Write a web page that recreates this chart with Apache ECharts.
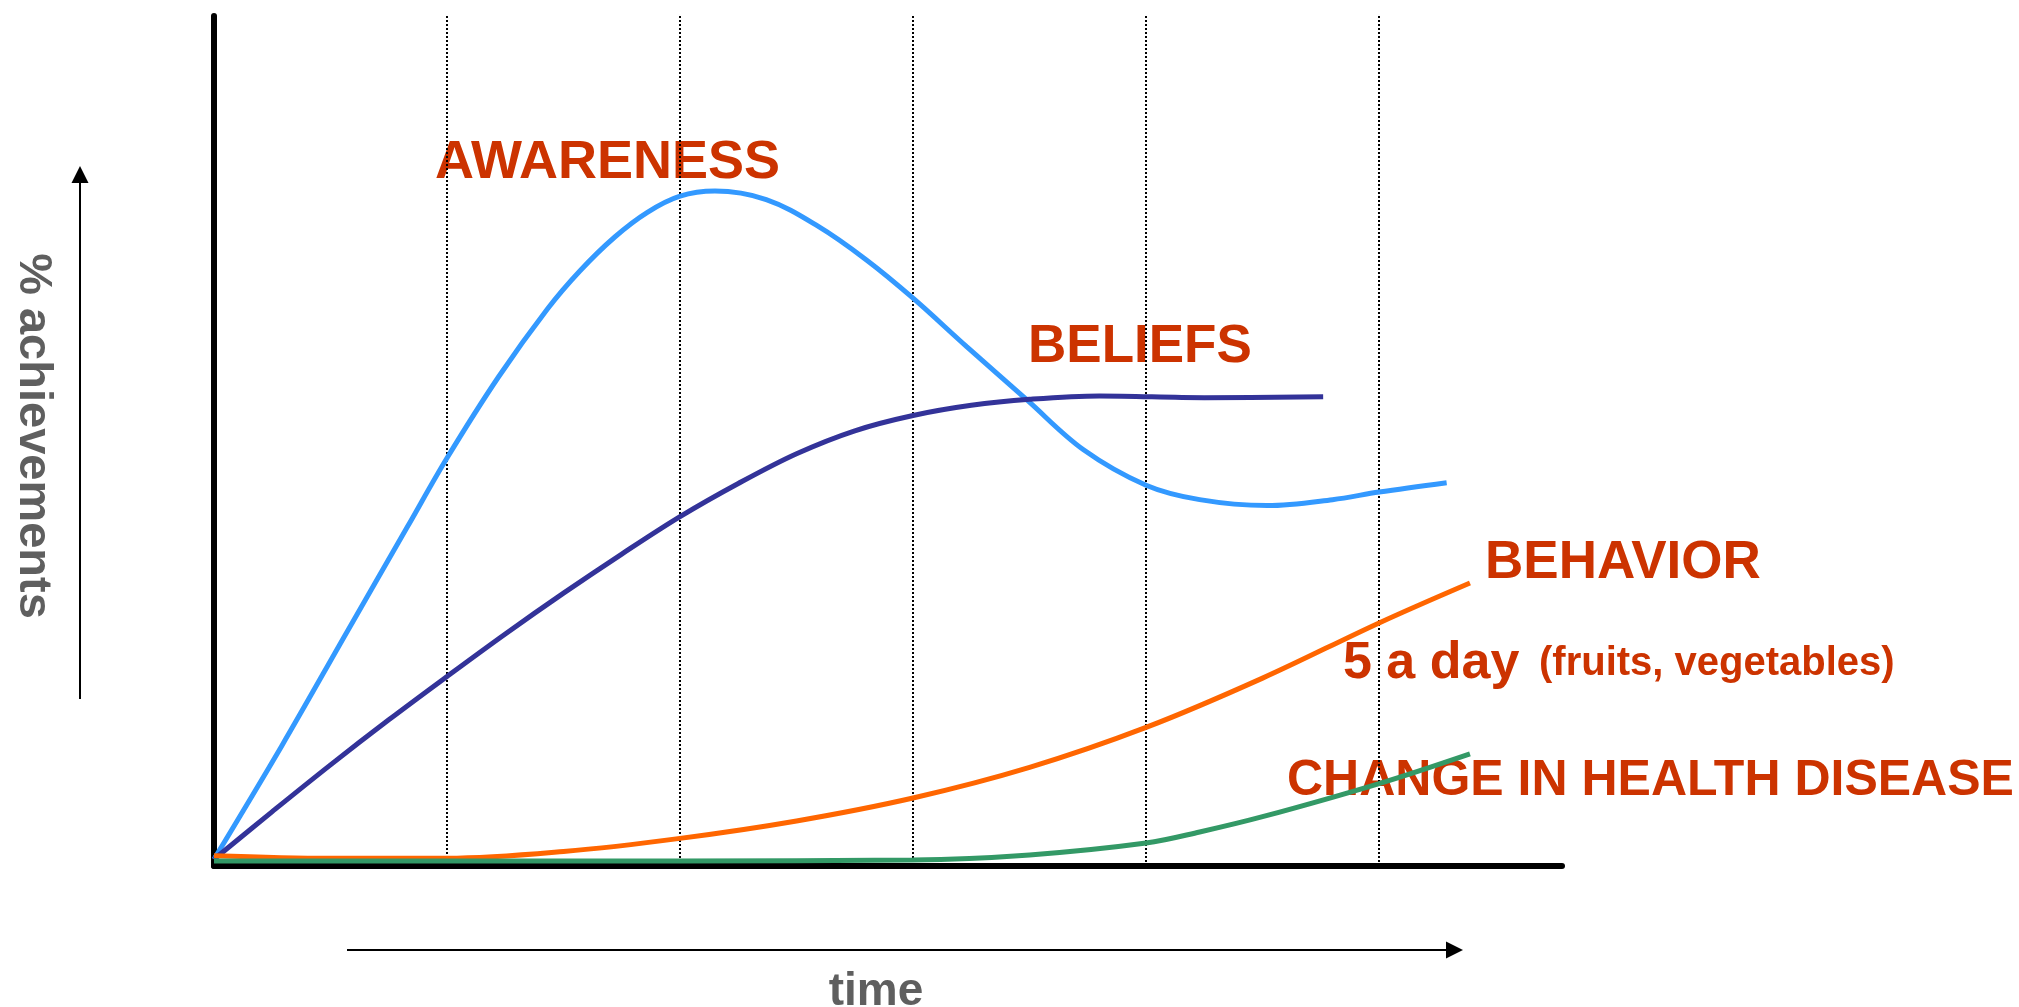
<!DOCTYPE html>
<html>
<head>
<meta charset="utf-8">
<script src="https://cdn.jsdelivr.net/npm/echarts@6/dist/echarts.min.js"></script>
<style>
  html, body { margin: 0; padding: 0; background: #ffffff; }
  #chart { width: 2019px; height: 1007px; }
</style>
</head>
<body>
<div id="chart"></div>
<script>
// ---- data (time in grid units, value in % of the axis height) ----
const awarenessTime = [0, 0.29, 0.57, 0.83, 1, 1.22, 1.43, 1.57, 1.72, 1.86, 2, 2.15, 2.37, 2.59, 2.8, 3, 3.23, 3.49, 3.73, 4, 4.23, 4.52, 4.8, 5, 5.29];
const awarenessValues = [0.8, 14.1, 27.5, 39.9, 48.0, 57.5, 65.5, 70.0, 74.0, 76.9, 78.8, 79.4, 78.4, 75.3, 71.3, 66.8, 61.1, 54.8, 49.0, 44.8, 43.1, 42.4, 43.1, 44.0, 45.1];

const beliefsTime = [0, 0.25, 0.5, 0.75, 1, 1.25, 1.5, 1.75, 2, 2.25, 2.5, 2.75, 3, 3.25, 3.5, 3.8, 4.25, 4.76];
const beliefsValues = [0.8, 6.4, 11.9, 17.2, 22.3, 27.3, 32.1, 36.7, 41.1, 45.0, 48.5, 51.2, 53.0, 54.2, 54.9, 55.3, 55.1, 55.2];

const behaviorTime = [0, 0.5, 1, 1.5, 2, 2.5, 3, 3.5, 4, 4.5, 5, 5.39];
const behaviorValues = [1.2, 0.9, 0.9, 1.7, 3.25, 5.3, 8.0, 11.6, 16.3, 22.1, 28.6, 33.3];

const healthTime = [0, 1, 2, 3, 3.5, 4, 4.23, 4.5, 5, 5.39];
const healthValues = [0.6, 0.6, 0.6, 0.7, 1.3, 2.7, 4.0, 5.8, 9.7, 13.2];

const seriesNames = ['AWARENESS', 'BELIEFS', 'BEHAVIOR', 'CHANGE IN HEALTH DISEASE'];
const labelAwareness = 'AWARENESS';
const labelBeliefs = 'BELIEFS';
const labelBehavior = 'BEHAVIOR';
const labelFiveADay = '5 a day';
const labelFiveADayNote = '(fruits, vegetables)';
const labelHealth = 'CHANGE IN HEALTH DISEASE';
const yTitle = '% achievements';
const xTitle = 'time';

const pairs = (xs, ys) => xs.map((x, i) => [x, ys[i]]);

const FONT = "'Liberation Sans', Arial, Helvetica, sans-serif";
const RED = '#CC3300';
const GREY = '#5F5F5F';

const chart = echarts.init(document.getElementById('chart'), null, { renderer: 'canvas' });

function lineSeries(name, data, color) {
  return {
    type: 'line',
    name: name,
    data: data,
    smooth: 0.35,
    showSymbol: false,
    symbol: 'none',
    lineStyle: { color: color, width: 5 },
    silent: true,
    animation: false
  };
}

const option = {
  animation: false,
  backgroundColor: '#ffffff',
  grid: { left: 214, right: 457, top: 16, bottom: 141, containLabel: false },
  xAxis: {
    type: 'value',
    min: 0,
    max: 5.785,
    interval: 1,
    axisLine: { show: true, lineStyle: { color: '#000', width: 6 } },
    axisTick: { show: false },
    axisLabel: { show: false },
    splitLine: {
      show: true,
      showMinLine: false,
      showMaxLine: false,
      lineStyle: { color: '#000', width: 2, type: [2, 2] }
    }
  },
  yAxis: {
    type: 'value',
    min: 0,
    max: 100,
    interval: 50,
    axisLine: { show: true, lineStyle: { color: '#000', width: 6 } },
    axisTick: { show: false },
    axisLabel: { show: false },
    splitLine: { show: false }
  },
  series: [
    lineSeries(seriesNames[0], pairs(awarenessTime, awarenessValues), '#3399FF'),
    lineSeries(seriesNames[1], pairs(beliefsTime, beliefsValues), '#333399'),
    lineSeries(seriesNames[2], pairs(behaviorTime, behaviorValues), '#FF6600'),
    lineSeries(seriesNames[3], pairs(healthTime, healthValues), '#339966')
  ],
  graphic: [
    // annotations
    { type: 'text', style: { text: labelAwareness, fill: RED, font: 'bold 54px ' + FONT, verticalAlign: 'middle' }, x: 435, y: 163 },
    { type: 'text', style: { text: labelBeliefs, fill: RED, font: 'bold 53px ' + FONT, verticalAlign: 'middle' }, x: 1028, y: 347 },
    { type: 'text', style: { text: labelBehavior, fill: RED, font: 'bold 53px ' + FONT, verticalAlign: 'middle' }, x: 1485, y: 563 },
    { type: 'text', style: { text: labelFiveADay, fill: RED, font: 'bold 52px ' + FONT, verticalAlign: 'middle' }, x: 1343, y: 664 },
    { type: 'text', style: { text: labelFiveADayNote, fill: RED, font: 'bold 40px ' + FONT, verticalAlign: 'middle' }, x: 1539, y: 664 },
    { type: 'text', style: { text: labelHealth, fill: RED, font: 'bold 50px ' + FONT, verticalAlign: 'middle' }, x: 1287, y: 781 },
    // axis titles
    { type: 'text', style: { text: yTitle, fill: GREY, font: 'bold 47px ' + FONT, align: 'center', verticalAlign: 'middle' }, x: 33, y: 436, rotation: -Math.PI / 2 },
    { type: 'text', style: { text: xTitle, fill: GREY, font: 'bold 46px ' + FONT, align: 'center', verticalAlign: 'middle' }, x: 876, y: 992 },
    // arrows
    { type: 'line', shape: { x1: 80, y1: 699, x2: 80, y2: 180 }, style: { stroke: '#000', lineWidth: 2 } },
    { type: 'polygon', shape: { points: [[80, 166], [71.5, 183], [88.5, 183]] }, style: { fill: '#000' } },
    { type: 'line', shape: { x1: 347, y1: 950, x2: 1450, y2: 950 }, style: { stroke: '#000', lineWidth: 2 } },
    { type: 'polygon', shape: { points: [[1463, 950], [1446, 941.5], [1446, 958.5]] }, style: { fill: '#000' } }
  ]
};

chart.setOption(option);
</script>
</body>
</html>
